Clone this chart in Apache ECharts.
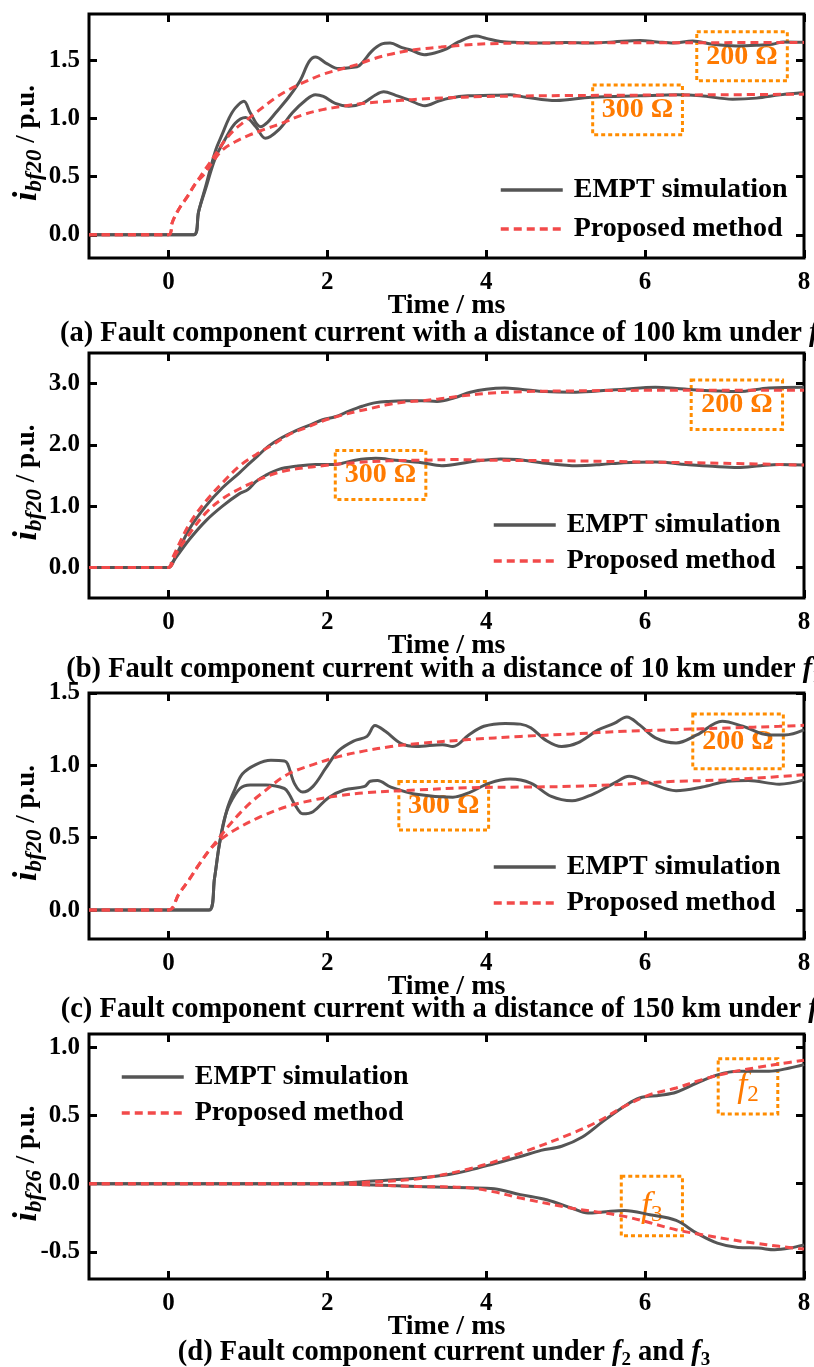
<!DOCTYPE html>
<html>
<head>
<meta charset="utf-8">
<script src="https://cdn.jsdelivr.net/npm/echarts@6/dist/echarts.min.js"></script>
<style>html,body{margin:0;padding:0;background:#fff;}#c{width:814px;height:1367px;}</style>
</head>
<body>
<div id="c"></div>
<script>
// ---------- tick labels ----------
const xTicks = [0, 2, 4, 6, 8];
const yTicksA = [0, 0.5, 1.0, 1.5];
const yTicksB = [0, 1.0, 2.0, 3.0];
const yTicksC = [0, 0.5, 1.0, 1.5];
const yTicksD = [-0.5, 0, 0.5, 1.0];

// ---------- panel (a): 100 km ----------
const a_sim200 = [[-1,0],[0.32,0],[0.38,0.2],[0.47,0.42],[0.59,0.72],[0.68,0.87],[0.76,1.0],[0.84,1.09],[0.95,1.15],[1.03,1.05],[1.16,0.93],[1.25,0.97],[1.35,1.05],[1.52,1.19],[1.66,1.33],[1.77,1.49],[1.85,1.53],[2.0,1.47],[2.14,1.43],[2.3,1.44],[2.4,1.455],[2.56,1.58],[2.68,1.64],[2.79,1.65],[2.94,1.61],[3.05,1.59],[3.22,1.55],[3.35,1.565],[3.5,1.6],[3.65,1.66],[3.87,1.71],[4.0,1.69],[4.18,1.664],[4.4,1.655],[4.69,1.65],[5.0,1.655],[5.32,1.65],[5.6,1.66],[5.94,1.672],[6.15,1.66],[6.36,1.65],[6.6,1.667],[6.85,1.64],[7.15,1.625],[7.4,1.63],[7.6,1.64],[7.74,1.66],[8.0,1.656]];
const a_sim300 = [[-1,0],[0.32,0],[0.38,0.2],[0.47,0.40],[0.59,0.66],[0.72,0.83],[0.84,0.96],[0.97,1.01],[1.10,0.93],[1.22,0.83],[1.39,0.905],[1.56,1.05],[1.73,1.16],[1.85,1.205],[1.95,1.19],[2.10,1.13],[2.27,1.105],[2.44,1.13],[2.61,1.205],[2.71,1.23],[2.86,1.20],[3.03,1.16],[3.23,1.11],[3.40,1.15],[3.53,1.175],[3.77,1.196],[4.06,1.20],[4.3,1.204],[4.5,1.184],[4.88,1.155],[5.32,1.184],[5.94,1.196],[6.4,1.204],[6.7,1.196],[7.1,1.167],[7.4,1.176],[7.7,1.204],[8.0,1.224]];
const a_prop200 = [[-1,0],[0,0],[0.05,0.11],[0.13,0.22],[0.24,0.33],[0.34,0.44],[0.45,0.55],[0.59,0.69],[0.72,0.82],[0.84,0.91],[0.97,0.98],[1.10,1.05],[1.35,1.18],[1.52,1.25],[1.73,1.32],[1.94,1.38],[2.14,1.42],[2.35,1.46],[2.56,1.51],[2.77,1.55],[2.98,1.58],[3.19,1.60],[3.43,1.615],[3.68,1.63],[4.06,1.645],[4.5,1.65],[5.5,1.652],[6.5,1.653],[8.0,1.655]];
const a_prop300 = [[-1,0],[0,0],[0.05,0.11],[0.13,0.22],[0.24,0.33],[0.34,0.44],[0.45,0.52],[0.55,0.62],[0.68,0.73],[0.84,0.80],[1.01,0.855],[1.22,0.91],[1.43,0.96],[1.68,1.03],[1.94,1.077],[2.19,1.105],[2.44,1.13],[2.69,1.145],[2.94,1.157],[3.19,1.168],[3.44,1.177],[4.0,1.19],[5.0,1.198],[6.0,1.202],[7.0,1.205],[8.0,1.21]];

// ---------- panel (b): 10 km ----------
const b_sim200 = [[-1,0],[0,0],[0.09,0.18],[0.26,0.62],[0.47,1.0],[0.68,1.30],[0.89,1.54],[1.03,1.71],[1.14,1.84],[1.26,1.98],[1.43,2.12],[1.60,2.23],[1.77,2.32],[1.94,2.41],[2.10,2.46],[2.27,2.55],[2.44,2.63],[2.61,2.69],[2.77,2.71],[2.98,2.72],[3.19,2.72],[3.38,2.71],[3.6,2.77],[3.8,2.86],[4.0,2.91],[4.23,2.93],[4.43,2.91],[4.75,2.87],[5.08,2.86],[5.4,2.88],[5.73,2.91],[6.13,2.94],[6.4,2.92],[6.6,2.90],[6.9,2.88],[7.17,2.87],[7.56,2.93],[8.0,2.94]];
const b_sim300 = [[-1,0],[0,0],[0.05,0.08],[0.26,0.45],[0.47,0.76],[0.68,1.0],[0.89,1.2],[1.0,1.27],[1.10,1.40],[1.22,1.50],[1.39,1.60],[1.60,1.65],[1.85,1.68],[2.10,1.68],[2.19,1.70],[2.35,1.75],[2.61,1.78],[2.86,1.75],[3.19,1.71],[3.44,1.66],[3.6,1.68],[3.9,1.74],[4.18,1.77],[4.39,1.76],[4.75,1.70],[5.14,1.66],[5.45,1.68],[5.73,1.71],[6.13,1.72],[6.52,1.68],[6.85,1.65],[7.17,1.63],[7.45,1.66],[7.69,1.68],[8.0,1.67]];
const b_prop200 = [[-1,0],[0,0],[0.05,0.15],[0.26,0.70],[0.47,1.08],[0.68,1.38],[0.89,1.65],[1.10,1.84],[1.31,2.0],[1.52,2.17],[1.73,2.28],[1.94,2.39],[2.14,2.47],[2.35,2.54],[2.56,2.60],[2.77,2.66],[2.98,2.70],[3.19,2.72],[3.40,2.75],[3.7,2.80],[4.0,2.84],[4.5,2.87],[5.0,2.88],[6.0,2.89],[7.0,2.89],[8.0,2.89]];
const b_prop300 = [[-1,0],[0,0],[0.09,0.21],[0.26,0.54],[0.47,0.89],[0.68,1.12],[0.89,1.28],[1.10,1.41],[1.31,1.52],[1.52,1.59],[1.73,1.63],[1.94,1.66],[2.35,1.71],[2.77,1.74],[3.19,1.75],[3.6,1.76],[4.0,1.75],[5.0,1.74],[6.0,1.72],[7.0,1.70],[8.0,1.67]];

// ---------- panel (c): 150 km ----------
const c_sim200 = [[-1,0],[0.51,0],[0.58,0.22],[0.64,0.45],[0.74,0.70],[0.84,0.84],[0.93,0.94],[1.10,1.005],[1.29,1.035],[1.46,1.03],[1.50,1.01],[1.59,0.87],[1.69,0.815],[1.82,0.855],[1.98,0.98],[2.14,1.10],[2.34,1.17],[2.50,1.20],[2.60,1.275],[2.73,1.235],[2.93,1.15],[3.12,1.13],[3.45,1.143],[3.58,1.13],[3.78,1.21],[3.97,1.27],[4.24,1.29],[4.43,1.285],[4.56,1.26],[4.76,1.17],[4.95,1.13],[5.15,1.155],[5.41,1.245],[5.61,1.29],[5.77,1.335],[5.93,1.28],[6.13,1.19],[6.39,1.155],[6.65,1.21],[6.97,1.305],[7.23,1.27],[7.56,1.21],[7.76,1.21],[8.0,1.245]];
const c_sim300 = [[-1,0],[0.51,0],[0.58,0.22],[0.64,0.45],[0.70,0.62],[0.77,0.73],[0.90,0.84],[1.03,0.865],[1.23,0.865],[1.46,0.84],[1.52,0.80],[1.59,0.73],[1.69,0.665],[1.82,0.68],[2.01,0.775],[2.21,0.83],[2.47,0.855],[2.54,0.89],[2.63,0.895],[2.80,0.85],[3.12,0.80],[3.58,0.78],[3.78,0.81],[4.04,0.877],[4.30,0.905],[4.56,0.877],[4.82,0.785],[5.08,0.755],[5.34,0.80],[5.61,0.877],[5.80,0.925],[6.06,0.877],[6.39,0.825],[6.72,0.85],[7.04,0.89],[7.30,0.895],[7.69,0.87],[8.0,0.90]];
const c_prop200 = [[-1,0],[0,0],[0.13,0.11],[0.26,0.21],[0.38,0.31],[0.51,0.41],[0.64,0.50],[0.77,0.59],[0.90,0.67],[1.03,0.74],[1.16,0.80],[1.49,0.935],[1.82,1.005],[2.14,1.06],[2.47,1.10],[2.80,1.13],[3.12,1.15],[3.78,1.178],[4.43,1.20],[5.08,1.217],[5.74,1.235],[6.39,1.247],[7.04,1.258],[7.69,1.27],[8.0,1.277]];
const c_prop300 = [[-1,0],[0,0],[0.13,0.11],[0.26,0.21],[0.38,0.31],[0.51,0.41],[0.64,0.48],[0.84,0.555],[1.16,0.645],[1.49,0.715],[1.82,0.76],[2.14,0.79],[2.47,0.81],[3.12,0.83],[3.78,0.845],[4.43,0.85],[5.08,0.855],[5.74,0.87],[6.39,0.89],[7.04,0.90],[8.0,0.935]];

// ---------- panel (d): f2 and f3 ----------
const d_sim2 = [[-1,0],[2.0,0],[2.47,0.017],[3.12,0.04],[3.51,0.066],[3.78,0.098],[4.10,0.147],[4.43,0.20],[4.69,0.245],[4.95,0.275],[5.21,0.343],[5.47,0.458],[5.74,0.569],[5.93,0.63],[6.19,0.65],[6.39,0.672],[6.65,0.74],[6.91,0.80],[7.17,0.826],[7.56,0.826],[7.82,0.85],[8.0,0.875]];
const d_sim3 = [[-1,0],[2.0,0],[2.47,-0.007],[3.12,-0.02],[3.78,-0.03],[4.10,-0.037],[4.43,-0.08],[4.76,-0.118],[5.08,-0.18],[5.28,-0.216],[5.47,-0.208],[5.74,-0.196],[6.06,-0.228],[6.39,-0.27],[6.65,-0.363],[6.91,-0.436],[7.17,-0.468],[7.43,-0.473],[7.63,-0.485],[7.82,-0.473],[8.0,-0.449]];
const d_prop2 = [[-1,0],[2.0,0],[2.5,0.012],[3.12,0.035],[3.78,0.108],[4.43,0.225],[5.08,0.37],[5.41,0.458],[5.74,0.569],[6.06,0.654],[6.39,0.703],[6.72,0.765],[7.04,0.814],[7.37,0.85],[7.69,0.88],[8.0,0.907]];
const d_prop3 = [[-1,0],[2.0,0],[2.5,-0.008],[3.12,-0.02],[3.78,-0.03],[4.1,-0.06],[4.43,-0.105],[5.08,-0.18],[5.74,-0.24],[6.39,-0.338],[6.72,-0.375],[7.04,-0.407],[7.37,-0.436],[7.69,-0.46],[8.0,-0.48]];

// ---------- styles & layout ----------
const FONT = '"Liberation Serif", "Times New Roman", serif';
const GRAY = '#555555', RED = '#f24a4a', ORANGE = '#ff8c00', ORANGE_T = '#ff7a00';
const panels = [
  { top: 14,  height: 244, ymin: -0.2, ymax: 1.9, yTicks: yTicksA, sub: 'bf20',
    sim: [a_sim200, a_sim300], prop: [a_prop200, a_prop300],
    legend: { left: 499, top: 176, gap: 11 },
    boxes: [{ t: '{o|200 Ω}', x: [6.65, 7.79], y: [1.325, 1.747] }, { t: '{o|300 Ω}', x: [5.34, 6.47], y: [0.86, 1.29] }],
    cap: { y: 334, t: '(a) Fault component current with a distance of 100 km under ', s: '1' } },
  { top: 353, height: 245, ymin: -0.5, ymax: 3.5, yTicks: yTicksB, sub: 'bf20',
    sim: [b_sim200, b_sim300], prop: [b_prop200, b_prop300],
    legend: { left: 492, top: 511, gap: 8 },
    boxes: [{ t: '{o|200 Ω}', x: [6.58, 7.73], y: [2.25, 3.06] }, { t: '{o|300 Ω}', x: [2.10, 3.24], y: [1.11, 1.91] }],
    cap: { y: 670, t: '(b) Fault component current with a distance of 10 km under ', s: '1' } },
  { top: 693, height: 246, ymin: -0.2, ymax: 1.5, yTicks: yTicksC, sub: 'bf20',
    sim: [c_sim200, c_sim300], prop: [c_prop200, c_prop300],
    legend: { left: 492, top: 853, gap: 8 },
    boxes: [{ t: '{o|200 Ω}', x: [6.60, 7.74], y: [0.977, 1.355] }, { t: '{o|300 Ω}', x: [2.90, 4.03], y: [0.553, 0.889] }],
    cap: { y: 1010, t: '(c) Fault component current with a distance of 150 km under ', s: '1' } },
  { top: 1034, height: 245, ymin: -0.7, ymax: 1.1, yTicks: yTicksD, sub: 'bf26',
    sim: [d_sim2, d_sim3], prop: [d_prop2, d_prop3],
    legend: { left: 120, top: 1063, gap: 8 },
    boxes: [{ t: '{fi|f}{fs|2}', x: [6.92, 7.67], y: [0.512, 0.919] }, { t: '{fi|f}{fs|3}', x: [5.70, 6.47], y: [-0.382, 0.054] }],
    cap: { y: 1353, t: '(d) Fault component current under ', s: '2', t2: ' and ', s2: '3' } }
];

const grid = [], xAxis = [], yAxis = [], series = [], legend = [], graphic = [];
const tickStyle = { show: true, inside: true, length: 8, lineStyle: { color: '#000', width: 3 } };
const capRich = {
  m: { fontFamily: FONT, fontWeight: 'bold', fontSize: 28.5, color: '#000' },
  f: { fontFamily: FONT, fontWeight: 'bold', fontStyle: 'italic', fontSize: 28.5, color: '#000' },
  s: { fontFamily: FONT, fontWeight: 'bold', fontSize: 19, color: '#000', padding: [14, 0, 0, 0] }
};
const boxRich = {
  o: { fontFamily: FONT, fontWeight: 'bold', fontSize: 28, color: ORANGE_T },
  fi: { fontFamily: FONT, fontStyle: 'italic', fontSize: 36, color: ORANGE_T },
  fs: { fontFamily: FONT, fontSize: 23, color: ORANGE_T, padding: [18, 0, 0, 0] }
};

panels.forEach((p, i) => {
  grid.push({ left: 89, width: 715, top: p.top, height: p.height, show: true, borderColor: '#000', borderWidth: 3,
    backgroundColor: 'transparent', containLabel: false, outerBoundsMode: 'none' });
  xAxis.push({ gridIndex: i, type: 'value', min: -1, max: 8, position: 'bottom',
    axisLine: { show: false, onZero: false }, splitLine: { show: false },
    axisTick: Object.assign({ customValues: xTicks }, tickStyle),
    axisLabel: { customValues: xTicks, margin: 12, fontFamily: FONT, fontWeight: 'bold', fontSize: 25, color: '#000', formatter: v => String(v) },
    name: 'Time / ms', nameLocation: 'middle', nameGap: 34, nameMoveOverlap: false,
    nameTextStyle: { fontFamily: FONT, fontWeight: 'bold', fontSize: 28, color: '#000' } });
  yAxis.push({ gridIndex: i, type: 'value', min: p.ymin, max: p.ymax, position: 'left',
    axisLine: { show: false, onZero: false }, splitLine: { show: false },
    axisTick: Object.assign({ customValues: p.yTicks }, tickStyle),
    axisLabel: { customValues: p.yTicks, margin: 9, fontFamily: FONT, fontWeight: 'bold', fontSize: 25, color: '#000', formatter: v => v.toFixed(1) },
    name: '{i|i}{s|' + p.sub + '}{t| / p.u.}', nameLocation: 'middle', nameRotate: 90, nameGap: 42, nameMoveOverlap: false,
    nameTextStyle: { rich: {
      i: { fontFamily: FONT, fontWeight: 'bold', fontStyle: 'italic', fontSize: 34, color: '#000' },
      s: { fontFamily: FONT, fontWeight: 'bold', fontStyle: 'italic', fontSize: 23, color: '#000', padding: [16, 0, 0, 0] },
      t: { fontFamily: FONT, fontWeight: 'bold', fontSize: 27, color: '#000', padding: [0, 14, 0, 0] }
    } } });
});
panels.forEach((p, i) => {
  xAxis.push({ gridIndex: i, type: 'value', min: -1, max: 8, position: 'top',
    axisLine: { show: false, onZero: false }, splitLine: { show: false }, axisLabel: { show: false },
    axisTick: Object.assign({ customValues: xTicks }, tickStyle) });
  yAxis.push({ gridIndex: i, type: 'value', min: p.ymin, max: p.ymax, position: 'right',
    axisLine: { show: false, onZero: false }, splitLine: { show: false }, axisLabel: { show: false },
    axisTick: Object.assign({ customValues: p.yTicks }, tickStyle) });
});

panels.forEach((p, i) => {
  p.sim.forEach((d, k) => {
    const s = { type: 'line', name: 'EMPT simulation', xAxisIndex: i, yAxisIndex: i, data: d,
      showSymbol: false, symbol: 'none', smooth: 0.35, silent: true, z: 2,
      lineStyle: { color: GRAY, width: 3 }, itemStyle: { color: GRAY } };
    if (k === 0) {
      s.markArea = { silent: true,
        itemStyle: { color: 'rgba(0,0,0,0)', borderColor: ORANGE, borderWidth: 3, borderType: [4, 3] },
        label: { show: true, position: 'inside', rich: boxRich },
        data: p.boxes.map(b => [{ coord: [b.x[0], b.y[1]], label: { formatter: b.t } }, { coord: [b.x[1], b.y[0]] }]) };
    }
    series.push(s);
  });
  p.prop.forEach(d => {
    series.push({ type: 'line', name: 'Proposed method', xAxisIndex: i, yAxisIndex: i, data: d,
      showSymbol: false, symbol: 'none', smooth: 0.35, silent: true, z: 3,
      lineStyle: { color: RED, width: 3, type: [8, 5] }, itemStyle: { color: RED } });
  });
  legend.push({ orient: 'vertical', left: p.legend.left, top: p.legend.top, padding: 0, itemWidth: 62, itemHeight: 14,
    itemGap: p.legend.gap, selectedMode: false, data: ['EMPT simulation', 'Proposed method'],
    itemStyle: { opacity: 0, borderWidth: 0 }, lineStyle: { width: 3.5 },
    textStyle: { fontFamily: FONT, fontWeight: 'bold', fontSize: 28, color: '#000', lineHeight: 28, padding: [0, 0, 0, 6] } });
  let txt = '{m|' + p.cap.t + '}{f|f}{s|' + p.cap.s + '}';
  if (p.cap.t2) txt += '{m|' + p.cap.t2 + '}{f|f}{s|' + p.cap.s2 + '}';
  graphic.push({ type: 'text', x: 444, y: p.cap.y, silent: true,
    style: { text: txt, align: 'center', verticalAlign: 'middle', rich: capRich } });
});

const chart = echarts.init(document.getElementById('c'), null, { renderer: 'canvas' });
chart.setOption({ animation: false, backgroundColor: '#fff', grid, xAxis, yAxis, series, legend, graphic });
</script>
</body>
</html>
